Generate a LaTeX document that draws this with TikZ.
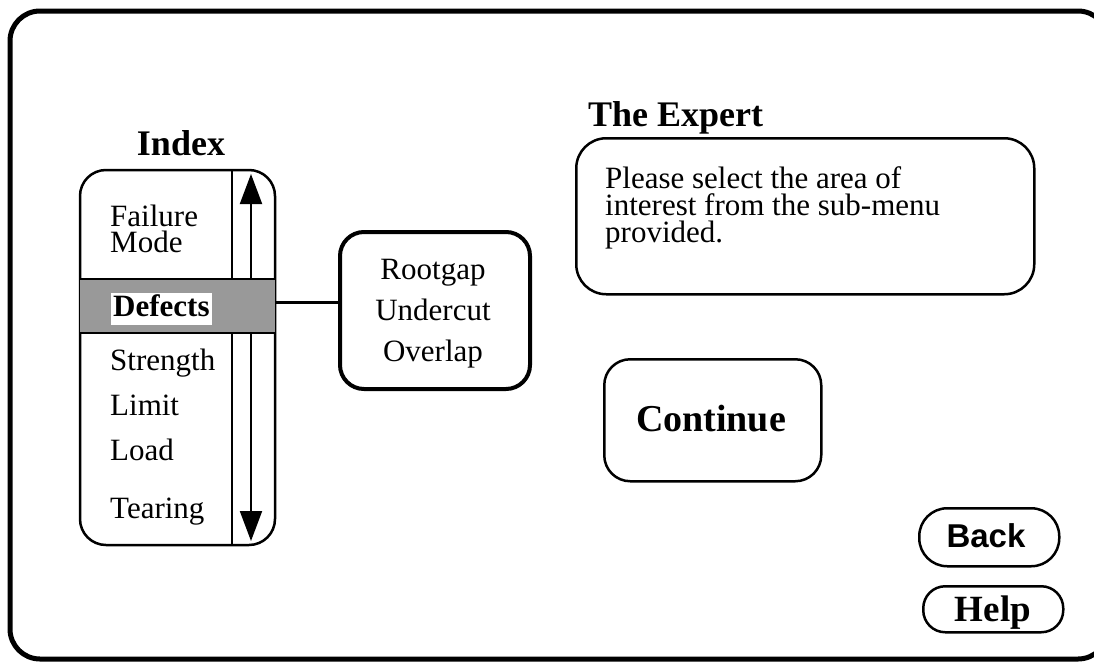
\documentclass[tikz,border=0pt]{standalone}
\usepackage{fontspec}
\setmainfont{Liberation Serif}
\newfontfamily\btnsans{Liberation Sans}
\usetikzlibrary{arrows.meta}
\begin{document}
\begin{tikzpicture}[x=1pt,y=-1pt,
  body/.style={font=\fontsize{31}{27}\selectfont, inner sep=0pt, text height=20pt, text depth=6pt},
  head/.style={font=\fontsize{36}{36}\selectfont\bfseries, inner sep=0pt},
  panel/.style={draw, line width=2.5pt, rounded corners=26pt},
  pill/.style={draw, line width=2.5pt, rounded corners=20pt},
  tri/.style={-{Triangle[length=30pt,width=22pt]}, line width=2pt}]
\useasboundingbox (0,0) rectangle (1094,664);
\clip (0,0) rectangle (1094,664);

% outer window frame
\draw[line width=5pt, rounded corners=30pt] (10,11) rectangle (1108,659);

% index list
\node[head, anchor=base] (idxtitle) at (181,155) {Index};
\coordinate (ilt) at (80,170);
\coordinate (irb) at (275,545);
\draw[panel] (ilt) rectangle (irb);
\draw[line width=2pt] (232,170) -- (232,545);
\coordinate (up) at (251,174);
\coordinate (dn) at (251,541);
\coordinate (mid) at (251,357);
\draw[tri] (mid) -- (up);
\draw[tri] (mid) -- (dn);
\node[body, anchor=base west] (fm1) at (110,226) {Failure};
\node[body, anchor=base west] (fm2) at (110,252) {Mode};
% selected entry
\fill[black!40] (80,279) rectangle (275,333);
\draw[line width=2pt] (80,279) -- (275,279) (80,333) -- (275,333);
\node[body, anchor=base west, fill=white, inner xsep=2pt, inner ysep=3pt, font=\fontsize{31}{27}\selectfont\bfseries] (def) at (111,316) {Defects};
\coordinate (defr) at (275,302);
\node[body, anchor=base west] (str) at (110,370) {Strength};
\node[body, anchor=base west] (ll1) at (110,415) {Limit};
\node[body, anchor=base west] (ll2) at (110,460) {Load};
\node[body, anchor=base west] (tear) at (110,518) {Tearing};

% sub-menu
\node[draw, line width=4pt, rounded corners=24pt, minimum width=190pt, minimum height=157pt, anchor=north west] (sub) at (338,230) {};
\node[body, anchor=base] (r1) at (433,279) {Rootgap};
\node[body, anchor=base] (r2) at (433,320) {Undercut};
\node[body, anchor=base] (r3) at (433,361) {Overlap};
\draw[line width=3pt] (defr) -- (sub.west |- defr);

% expert panel
\node[head, anchor=base west] (exptitle) at (588,126) {The Expert};
\node[panel, minimum width=458pt, minimum height=156pt, anchor=north west, rounded corners=30pt] (exp) at (575,137) {};
\node[body, anchor=base west] (msg1) at (605,188) {Please select the area of};
\node[body, anchor=base west] (msg2) at (605,215) {interest from the sub-menu};
\node[body, anchor=base west] (msg3) at (605,242) {provided.};

% buttons
\node[panel, minimum width=217pt, minimum height=122pt, anchor=north west] (cont) at (603,358) {};
\node[head, anchor=base, font=\fontsize{38}{38}\selectfont\bfseries] (contl) at (711,431) {Continue};
\node[pill, minimum width=140pt, minimum height=58pt, anchor=north west, rounded corners=28pt] (back) at (918,507) {};
\node[anchor=base, inner sep=0pt, font=\fontsize{33}{33}\btnsans\bfseries] (backl) at (986,547) {Back};
\node[pill, minimum width=140pt, minimum height=46pt, anchor=north west, rounded corners=22pt] (help) at (922,585) {};
\node[head, anchor=base, font=\fontsize{37}{37}\selectfont\bfseries] (helpl) at (993,621) {Help};
\end{tikzpicture}
\end{document}
